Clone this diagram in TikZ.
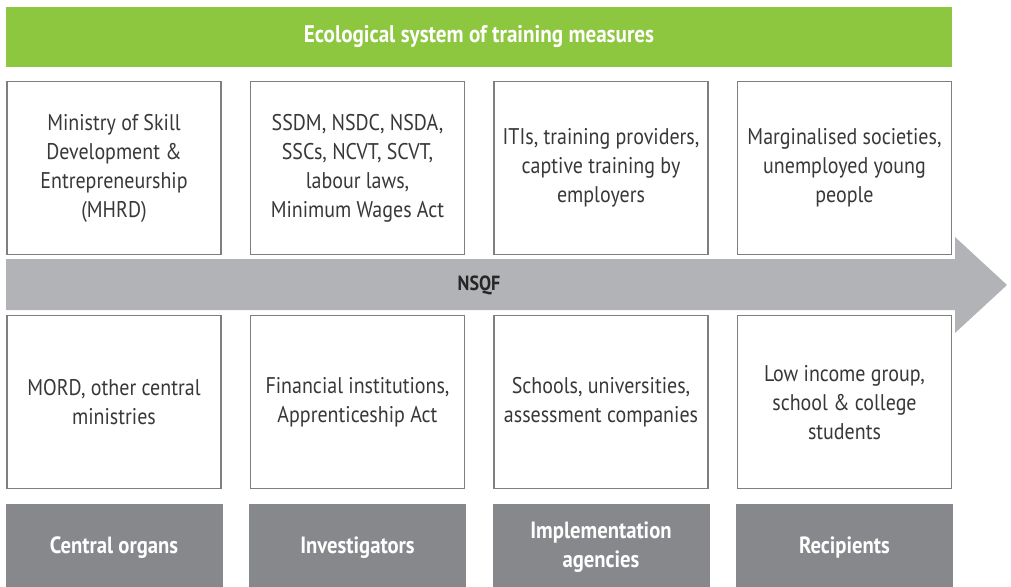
\documentclass[tikz,border=0pt]{standalone}
\usepackage{fontspec}
\setmainfont{PT Sans}[FakeStretch=0.88]
\usetikzlibrary{calc}
\definecolor{ecogreen}{HTML}{8DC63F}
\definecolor{arrowgray}{HTML}{B1B3B6}
\definecolor{rolegray}{HTML}{87888C}
\definecolor{boxline}{HTML}{7F7F7F}
\definecolor{txtdark}{HTML}{383838}

\tikzset{
 infobox/.style={draw=boxline, line width=1.2pt, fill=white, minimum width=214pt,
   minimum height=173pt, align=center, text=txtdark, inner sep=0pt,
   font=\fontsize{22.7}{29}\selectfont},
 rolebox/.style={fill=rolegray, minimum width=217pt, minimum height=86pt,
   align=center, text=white, inner sep=0pt, font=\bfseries\fontsize{23.5}{29}\selectfont}
}

\begin{document}
\begin{tikzpicture}[x=1pt,y=-1pt]
\useasboundingbox (0,0) rectangle (1011,586);
% green title bar
\node[fill=ecogreen, minimum width=946pt, minimum height=60pt, inner sep=0pt,
  text=white, font=\bfseries\fontsize{24}{28}\selectfont] (eco) at (479,37)
  {Ecological system of training measures};
% big arrow
\fill[arrowgray] (6,259) -- (955,259) -- (955,237) -- (1007,285)
  -- (955,333) -- (955,310) -- (6,310) -- cycle;
\node[text=black!85, font=\bfseries\fontsize{20.5}{24}\selectfont] (nsqf) at (479,285) {NSQF};
% upper boxes
\foreach \i/\t in {1/{Ministry of Skill\\Development \&\\Entrepreneurship\\(MHRD)},
                   2/{SSDM, NSDC, NSDA,\\SSCs, NCVT, SCVT,\\labour laws,\\Minimum Wages Act},
                   3/{ITIs, training providers,\\captive training by\\employers},
                   4/{Marginalised societies,\\unemployed young\\people}}
 \node[infobox, anchor=north] (up\i) at ({114+243.5*(\i-1)},81) {\t};
% lower boxes
\foreach \i/\t in {1/{MORD, other central\\ministries},
                   2/{Financial institutions,\\Apprenticeship Act},
                   3/{Schools, universities,\\assessment companies},
                   4/{Low income group,\\school \& college\\students}}
 \node[infobox, anchor=north] (low\i) at ({114+243.5*(\i-1)},315) {\t};
% role labels
\foreach \i/\t in {1/{Central organs}, 2/{Investigators},
                   3/{Implementation\\agencies}, 4/{Recipients}}
 \node[rolebox, anchor=north] (role\i) at ({114+243.5*(\i-1)},504) {\t};
\end{tikzpicture}
\end{document}
